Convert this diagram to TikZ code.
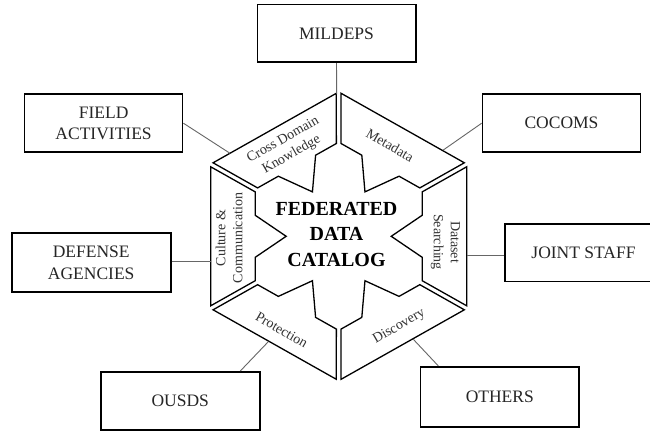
\documentclass[tikz,border=0pt]{standalone}
\usepackage{fontspec}
\setmainfont{Liberation Serif}
\begin{document}
\begin{tikzpicture}[x=1pt,y=1pt,
  box/.style={draw, line width=1.6pt, minimum width=158pt, minimum height=58pt, inner sep=0pt, align=center, font=\fontsize{17.5}{21.3}\selectfont, text=black!85},
  seg/.style={draw, line width=1.3pt, line join=miter},
  lab/.style={font=\fontsize{14}{17}\selectfont, align=center, text=black!80, inner sep=0pt},
  conn/.style={draw=black!60, line width=0.9pt}]
\useasboundingbox (0,0) rectangle (650,431);
\fill[white] (0,0) rectangle (650,431);

% hexagon segments
\begin{scope}[shift={(338.7,194.7)}, xscale=1.024]
  \foreach \r in {0,-60,-120,180,120,60}
    \draw[seg, rotate=\r] (-125,69.5) -- (-81.5,44.4) -- (-81.5,21) -- (-51.3,0) -- (-81.5,-21) -- (-81.5,-44.4) -- (-125,-69.5) -- cycle;
\end{scope}

% segment labels
\node[lab, rotate=30] (lcd) at (287.5,283.5) {Cross Domain\\Knowledge};
\node[lab, rotate=-30] (lmd) at (390,286) {Metadata};
\node[lab, rotate=90] (lcc) at (229.2,193) {Culture \&\\Communication};
\node[lab, rotate=-90] (lds) at (445.4,189) {Dataset\\Searching};
\node[lab, rotate=-30] (lpr) at (281.7,101) {Protection};
\node[lab, rotate=30] (ldi) at (399.2,104.3) {Discovery};

% centre title
\node[font=\bfseries\fontsize{20}{25.5}\selectfont, align=center, inner sep=0pt] (fdc) at (336.5,197) {FEDERATED\\DATA\\CATALOG};

% boxes
\node[box, minimum width=158.4pt, minimum height=57.6pt] (mil) at (336.5,397.5) {MILDEPS};
\node[box] (fa) at (103.6,307.8) {FIELD\\ACTIVITIES};
\node[box] (co) at (561.5,307.8) {COCOMS};
\node[box, minimum width=159pt, minimum height=59pt] (da) at (91.2,168.2) {DEFENSE\\AGENCIES};
\node[box, minimum width=157pt, minimum height=57.4pt] (js) at (583.5,178) {JOINT STAFF};
\node[box, minimum width=159pt] (ou) at (180.3,30.2) {OUSDS};
\node[box, minimum width=158.4pt, minimum height=60pt] (ot) at (499.8,34.3) {OTHERS};

% connector ends on the hexagon
\coordinate (ctop) at (336.7,336.7);
\coordinate (cfa) at (230,277.7);
\coordinate (cco) at (443.3,281);
\coordinate (cda) at (210.7,169.3);
\coordinate (cjs) at (467.3,175.5);
\coordinate (cou) at (268.3,89.3);
\coordinate (cot) at (413.3,91.7);

% connectors
\draw[conn] (mil.south) -- (ctop);
\draw[conn] (fa.east) -- (cfa);
\draw[conn] (co.west) -- (cco);
\draw[conn] (cda -| da.east) -- (cda);
\draw[conn] (cjs) -- (cjs -| js.west);
\draw[conn] ([xshift=60pt]ou.north) -- (cou);
\draw[conn] ([xshift=-61.5pt]ot.north) -- (cot);
\end{tikzpicture}
\end{document}
